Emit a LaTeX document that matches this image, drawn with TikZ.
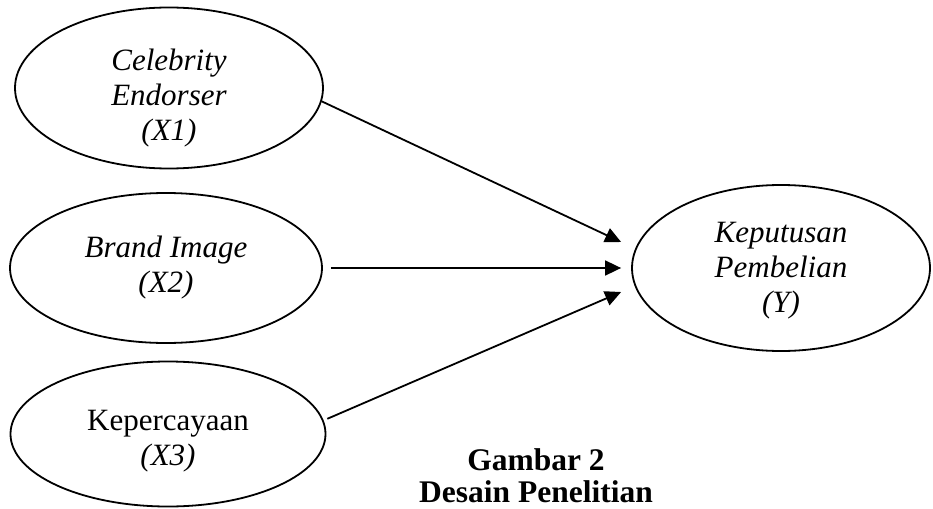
\documentclass[tikz,border=0pt]{standalone}
\usepackage{fontspec}
\setmainfont{Liberation Serif}
\usetikzlibrary{positioning, shapes.geometric, arrows.meta}

\begin{document}
\begin{tikzpicture}[
x=1pt, y=-1pt,
var/.style={ellipse, draw=black, line width=1.8pt, inner sep=0pt},
vartext/.style={align=center, font=\fontsize{31}{35}\selectfont\itshape},
path/.style={-{Triangle[length=16pt, width=15pt]}, line width=1.8pt},
caption/.style={align=center, inner sep=0pt, font=\fontsize{31.5}{32}\selectfont\bfseries},
node distance=3cm
]
\useasboundingbox (0,0) rectangle (933,508);
%Nodes
\node[var, minimum width=308pt, minimum height=161pt] (X1) at (169,88)  {};
\node[var, minimum width=312pt, minimum height=150pt] (X2) at (166,268) {};
\node[var, minimum width=315pt, minimum height=145pt] (X3) at (168,434) {};
\node[var, minimum width=298pt, minimum height=166pt] (Y)  at (781,268) {};

\node[vartext] (X1txt) at ([yshift=-10pt]X1.center) {Celebrity\\Endorser\\(X1)};
\node[vartext] (X2txt) at (X2.center)               {Brand Image\\(X2)};
\node[vartext] (X3txt) at ([yshift=-7pt]X3.center)  {\upshape Kepercayaan\\(X3)};
\node[vartext] (Ytxt)  at ([yshift=-3pt]Y.center)   {Keputusan\\Pembelian\\(Y)};

\node[caption]    (cap)    at (536,476)    {Gambar 2\\Desain Penelitian};

\coordinate (inA) at ([shift={(-10pt,26pt)}]Y.west);
\coordinate (inC) at ([shift={(-10pt,-24pt)}]Y.west);

%Lines
\draw[path] (X1.-5) to (inA);
\draw[path, shorten <=8pt, shorten >=10pt] (X2.east) to (X2.east -| Y.west);
\draw[path, shorten <=4pt] (X3.5) to (inC);
\end{tikzpicture}
\end{document}
